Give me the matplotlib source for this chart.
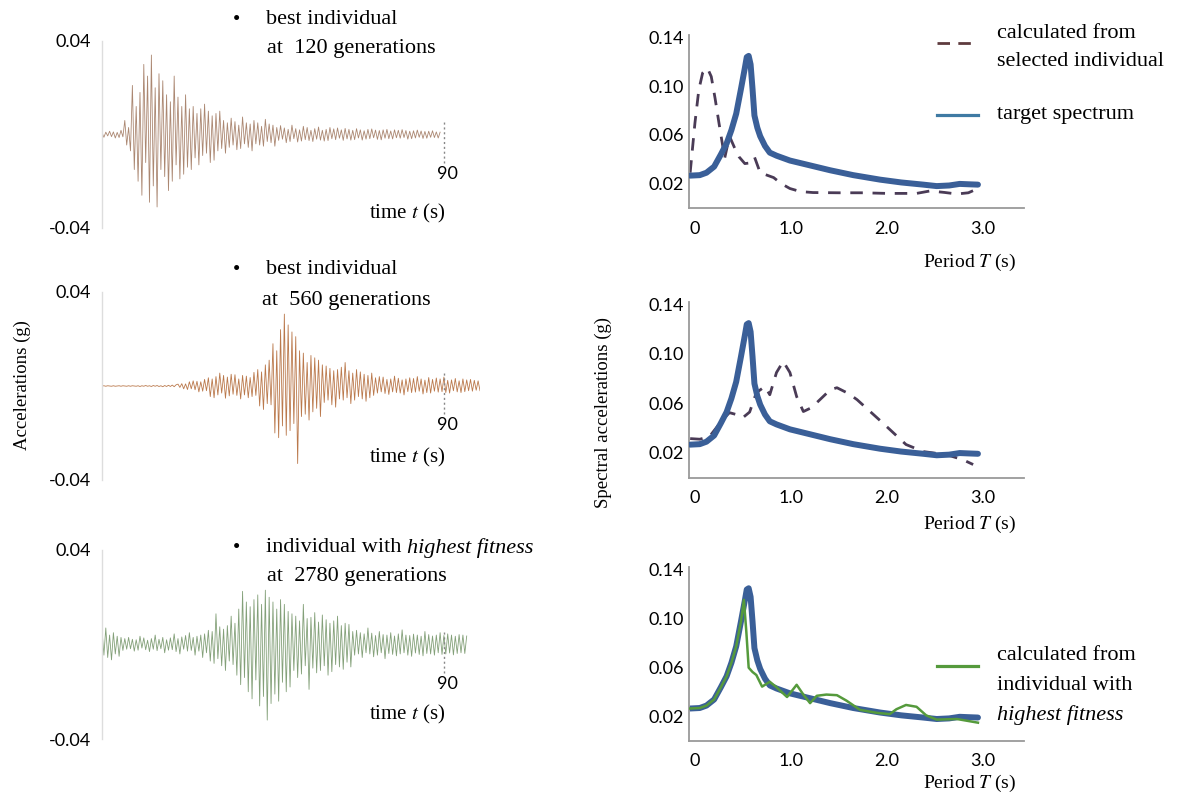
import numpy as np
import matplotlib
matplotlib.use("Agg")
import matplotlib.pyplot as plt
from matplotlib.lines import Line2D

plt.rcParams['mathtext.fontset'] = 'stix'

# ---------------- data ----------------
# accelerograms: alternating peak values in 1e-4 g, sampled every DT seconds
DT = 0.5
acc_120 = [8, -12, 10, -6, 14, -9, 11, -15, 9, -13, 18, -10,
           60, -45, 30, -70, 210, -150, 120, -200, 180, -260, 300, -120,
           250, -290, 340, -220, 200, -310, 260, -150, 230, -180, 170, -240,
           140, -200, 250, -130, 160, -190, 120, -170, 170, -140, 110, -150,
           120, -100, 90, -130, 110, -90, 130, -80, 100, -120, 80, -110,
           90, -70, 100, -60, 60, -80, 50, -55, 70, -45, 55, -65,
           40, -60, 75, -40, 50, -55, 45, -70, 60, -40, 50, -45,
           35, -50, 65, -30, 45, -35, 40, -50,
           30, -25, 38, -20, 28, -35, 22, -30, 40, -18, 25, -32, 20, -28, 35, -22, 30, -26, 18, -30,
           25, -20, 32, -24, 18, -28, 22, -26, 30, -18, 24, -22, 28, -16, 20, -25, 26, -19, 22, -24,
           18, -22, 25, -15, 20, -24, 16, -20, 22, -18, 24, -14, 19, -21, 17, -23, 20, -16, 22, -18,
           15, -19, 20, -14, 18, -16, 21, -13, 17, -20, 14, -18, 16, -15, 19, -12, 15, -17, 13, -16,
           14, -12, 16, -13, 11, -15, 10]
acc_560 = [0, 1, -1, 1, 0, -1, 1, -1, 0, 1, -1, 1, 0, -1, 1, -1, 1, 0, -1, 1,
           -2, 1, -1, 2, -1, 1, -2, 2, -1, 2, -2, 1, -3, 2, -2, 3, -2, 4, -3, 5,
           8, -6, 10, -12, 9, -15, 18, -12, 22, -16, 20, -25, 18, -22, 28, -20,
           35, -45, 30, -50, 40, -38, 55, -30, 45, -52, 38, -42, 50, -35, 48, -40,
           30, -55, 45, -38, 42, -50, 36, -45, 58, -40,
           70, -85, 60, -100, 90, -75, 110, -80,
           180, -200, 150, -220, 240, -170, 306, -210, 260, -190, 230, -160, 210, -330,
           150, -130, 140, -120, 100, -145, 130, -110, 120, -95, 110, -130,
           90, -70, 85, -60, 75, -80, 65, -90, 70, -55, 80, -60, 100, -50,
           65, -75, 55, -60, 70, -45, 60, -55, 50, -65, 45, -50, 55, -40,
           35, -30, 40, -25, 38, -32, 28, -36, 30, -25, 42, -28, 33, -30,
           26, -38, 30, -24, 35, -28, 32, -26, 40, -22, 30, -34, 25, -28,
           36, -30, 28, -22, 34, -26, 30, -24, 38, -28, 24, -30, 26, -20,
           32, -25, 22, -28, 30, -24, 26, -20, 28, -22, 24, -18, 22, -20]
acc_2780 = [60, -45, 70, -55, 40, -65, 50, -40, 35, -50, 30, -25,
            25, -20, 30, -18, 22, -28, 20, -24, 35, -15, 28, -22, 18, -30, 25, -20,
            40, -26, 22, -18, 30, -35, 20, -24, 28, -22, 45, -30, 25, -40, 32, -20,
            38, -28, 50, -25, 30, -45, 35, -28, 40, -55, 45, -35,
            60, -70, 55, -80, 130, -60, 75, -90, 65, -110, 80, -70, 120, -85, 90, -130,
            150, -170, 225, -140, 180, -200, 160, -230, 190, -150, 210, -260, 170, -220,
            230, -320, 200, -250, 180, -210, 150, -240, 190, -160, 170, -200, 140, -180,
            130, -110, 120, -140, 100, -125, 170, -90, 110, -190, 115, -100, 135, -120,
            95, -110, 125, -90, 105, -130, 90, -115, 100, -85, 120, -95, 80, -105, 90, -75, 85, -95,
            55, -45, 60, -40, 50, -55, 45, -35, 70, -40, 48, -52, 38, -45, 55, -35, 42, -60, 40, -38,
            50, -42, 36, -48, 45, -40, 62, -35, 40, -45, 38, -50, 44, -36, 40, -42, 35, -48, 55, -38,
            42, -40, 36, -45, 40, -35, 50, -42, 38, -40, 45, -36, 40, -44, 35, -38, 42, -35, 40, -38, 36]

# response spectra (period in s, spectral acceleration in g)
T_target = [-0.05, 0.05, 0.12, 0.2, 0.27, 0.33, 0.38, 0.43, 0.48, 0.52, 0.54, 0.56, 0.58, 0.6, 0.62,
            0.65, 0.68, 0.73, 0.78, 0.85, 0.99, 1.2, 1.41, 1.65, 1.93, 2.15, 2.38, 2.52, 2.65, 2.76, 2.85, 2.95]
Sa_target = [0.0266, 0.027, 0.029, 0.034, 0.044, 0.053, 0.064, 0.0775, 0.098, 0.115, 0.124, 0.125, 0.118,
             0.098, 0.076, 0.066, 0.059, 0.051, 0.0455, 0.043, 0.039, 0.035, 0.031, 0.027, 0.0233, 0.021,
             0.0192, 0.018, 0.0185, 0.0198, 0.0195, 0.0192]

T_120 = [-0.05, 0.0, 0.04, 0.08, 0.13, 0.17, 0.21, 0.25, 0.31, 0.36, 0.41, 0.46, 0.52, 0.57, 0.62, 0.68,
         0.75, 0.82, 0.9, 0.99, 1.1, 1.23, 1.5, 1.75, 2.0, 2.31, 2.45, 2.6, 2.73, 2.85, 2.95]
Sa_120 = [0.029, 0.07, 0.097, 0.111, 0.115, 0.108, 0.09, 0.07, 0.041, 0.059, 0.05, 0.042, 0.0365, 0.037,
          0.042, 0.029, 0.027, 0.025, 0.02, 0.016, 0.0135, 0.0127, 0.0125, 0.0125, 0.012, 0.012, 0.014,
          0.0128, 0.0115, 0.0125, 0.016]

T_560 = [-0.05, 0.05, 0.15, 0.22, 0.29, 0.36, 0.43, 0.5, 0.57, 0.64, 0.73, 0.78, 0.85, 0.92, 0.99, 1.06,
         1.13, 1.2, 1.27, 1.41, 1.48, 1.6, 1.69, 1.96, 2.2, 2.38, 2.62, 2.79, 2.9]
Sa_560 = [0.0315, 0.031, 0.033, 0.04, 0.047, 0.0525, 0.051, 0.0485, 0.053, 0.0687, 0.0737, 0.067, 0.085,
          0.094, 0.085, 0.0655, 0.0534, 0.056, 0.0606, 0.071, 0.0727, 0.068, 0.063, 0.044, 0.0267, 0.021,
          0.0185, 0.0145, 0.0105]

T_2780 = [-0.05, 0.05, 0.12, 0.2, 0.27, 0.33, 0.38, 0.43, 0.48, 0.51, 0.535, 0.56, 0.6, 0.64, 0.7, 0.78,
          0.85, 0.96, 1.06, 1.13, 1.2, 1.27, 1.37, 1.48, 1.58, 1.72, 1.9, 2.03, 2.1, 2.2, 2.31, 2.41,
          2.52, 2.73, 2.95]
Sa_2780 = [0.0266, 0.027, 0.029, 0.034, 0.044, 0.053, 0.064, 0.0775, 0.098, 0.1155, 0.09, 0.06, 0.0565,
           0.054, 0.0445, 0.0485, 0.044, 0.036, 0.046, 0.038, 0.031, 0.037, 0.038, 0.0375, 0.033, 0.0255,
           0.023, 0.022, 0.026, 0.0295, 0.028, 0.021, 0.0175, 0.018, 0.015]

acc_yticks = [-0.04, 0.04]
acc_yticklabels = ['-0.04', '0.04']
sa_yticks = [0.02, 0.06, 0.10, 0.14]
sa_yticklabels = ['0.02', '0.06', '0.10', '0.14']
T_xticks = [0, 1, 2, 3]
T_xticklabels = ['0', '1.0', '2.0', '3.0']

titles = [("best individual", "at  120 generations"),
          ("best individual", "at  560 generations"),
          ("individual with ", "at  2780 generations")]

# ---------------- figure ----------------
W, H = 1190, 800
fig = plt.figure(figsize=(W / 100, H / 100), dpi=100)
SERIF = 'Liberation Serif'
SANS = 'Lato'


def fx(px):
    return px / W


def fy(py):
    return 1 - py / H


def add_ax(left, top, right, bottom):
    return fig.add_axes([fx(left), fy(bottom), (right - left) / W, (bottom - top) / H])


# --- accelerograms ---
acc_boxes = [(41, 228), (292, 480), (550, 739)]
acc_series = [acc_120, acc_560, acc_2780]
acc_colors = ['#a27a62', '#b36a38', '#76966a']
time_label_y = [-0.0336, -0.0306, -0.0298]
for (top, bot), vals, col, tly in zip(acc_boxes, acc_series, acc_colors, time_label_y):
    ax = add_ax(102, top, 480, bot)
    a = np.array(vals) * 1e-4
    t = np.arange(len(a)) * DT
    ax.plot(t, a, color=col, lw=0.6, alpha=0.9)
    ax.set_xlim(0, 99.5)
    ax.set_ylim(-0.04, 0.04)
    for s in ['top', 'right', 'bottom']:
        ax.spines[s].set_visible(False)
    ax.spines['left'].set_color('#dddddd')
    ax.spines['left'].set_linewidth(1.0)
    ax.set_xticks([])
    ax.set_yticks(acc_yticks)
    ax.set_yticklabels(acc_yticklabels, fontfamily=SANS, fontsize=13)
    ax.tick_params(axis='y', length=0, pad=8)
    ax.plot([90, 90], [-0.012, 0.006], ls=(0, (1.5, 2)), color='#888888', lw=1.0)
    ax.text(90.8, -0.0168, '90', ha='center', va='center', fontfamily=SANS, fontsize=13)
    ax.text(80.3, tly, 'time $t$ (s)', ha='center', va='center', fontfamily=SERIF, fontsize=15)

fig.text(fx(22), fy(385), 'Accelerations (g)', rotation=90, ha='center', va='center',
         fontfamily=SERIF, fontsize=13.5)

# titles
title_rows = [(20, 48), (270, 300), (548, 577)]
renderer = fig.canvas.get_renderer()
for i, ((l1, l2), (y1, y2)) in enumerate(zip(titles, title_rows)):
    fig.text(fx(236), fy(y1), '•', ha='center', va='center', fontfamily=SERIF, fontsize=15)
    t1 = fig.text(fx(266), fy(y1), l1, ha='left', va='center', fontfamily=SERIF, fontsize=16)
    fig.text(fx(267 if i != 1 else 262), fy(y2), l2, ha='left', va='center', fontfamily=SERIF, fontsize=16)
    if i == 2:
        bb = t1.get_window_extent(renderer=renderer)
        fig.text(bb.x1 / W, fy(y1), 'highest fitness', ha='left', va='center', fontfamily=SERIF,
                 fontsize=16, style='italic')

# --- spectra ---
sa_boxes = [(34.6, 208), (301.5, 477.5), (566.9, 741)]
sel_T = [T_120, T_560, T_2780]
sel_Sa = [Sa_120, Sa_560, Sa_2780]
period_y = [262, 524, 783]
TARGET = '#3a5f98'
DASH = '#4a3b56'
GREEN = '#559a3c'
for i, ((top, bot), Ts, Ss) in enumerate(zip(sa_boxes, sel_T, sel_Sa)):
    ax = add_ax(689.2, top, 1024, bot)
    if i < 2:
        ax.plot(Ts, Ss, color=DASH, lw=2.0, ls=(0, (4.5, 3.5)), zorder=2)
        ax.plot(T_target, Sa_target, color=TARGET, lw=4.3, solid_capstyle='round', zorder=3)
    else:
        ax.plot(T_target, Sa_target, color=TARGET, lw=4.3, solid_capstyle='round', zorder=2)
        ax.plot(Ts, Ss, color=GREEN, lw=1.8, zorder=3)
    ax.set_xlim(-0.06, 3.43)
    ax.set_ylim(0, 0.1425)
    for s in ['top', 'right']:
        ax.spines[s].set_visible(False)
    for s in ['left', 'bottom']:
        ax.spines[s].set_color('#9a9a9a')
        ax.spines[s].set_linewidth(1.3)
    ax.set_yticks(sa_yticks)
    ax.set_yticklabels(sa_yticklabels, fontfamily=SANS, fontsize=13)
    ax.set_xticks(T_xticks)
    ax.set_xticklabels(T_xticklabels, fontfamily=SANS, fontsize=13)
    ax.tick_params(axis='y', length=0, pad=4)
    ax.tick_params(axis='x', length=0, pad=9)
    fig.text(fx(970), fy(period_y[i]), 'Period $T$ (s)', ha='center', va='center',
             fontfamily=SERIF, fontsize=14)

fig.text(fx(603), fy(413), 'Spectral accelerations (g)', rotation=90, ha='center', va='center',
         fontfamily=SERIF, fontsize=13.5)

# legends
fig.add_artist(Line2D([fx(937), fx(978)], [fy(43), fy(43)], color='#5e3b3e', lw=2.0,
                      ls=(0, (4.5, 3.0))))
fig.add_artist(Line2D([fx(937), fx(978)], [fy(115), fy(115)], color='#3f7aa3', lw=2.3))
fig.add_artist(Line2D([fx(937), fx(978)], [fy(666), fy(666)], color=GREEN, lw=2.3))
fig.text(fx(997), fy(33), 'calculated from', va='center', fontfamily=SERIF, fontsize=16)
fig.text(fx(997), fy(62), 'selected individual', va='center', fontfamily=SERIF, fontsize=16)
fig.text(fx(997), fy(115), 'target spectrum', va='center', fontfamily=SERIF, fontsize=16)
fig.text(fx(997), fy(655), 'calculated from', va='center', fontfamily=SERIF, fontsize=16)
fig.text(fx(997), fy(685), 'individual with', va='center', fontfamily=SERIF, fontsize=16)
fig.text(fx(997), fy(715), 'highest fitness', va='center', fontfamily=SERIF, fontsize=16,
         style='italic')

fig.savefig('out.png', dpi=100)
